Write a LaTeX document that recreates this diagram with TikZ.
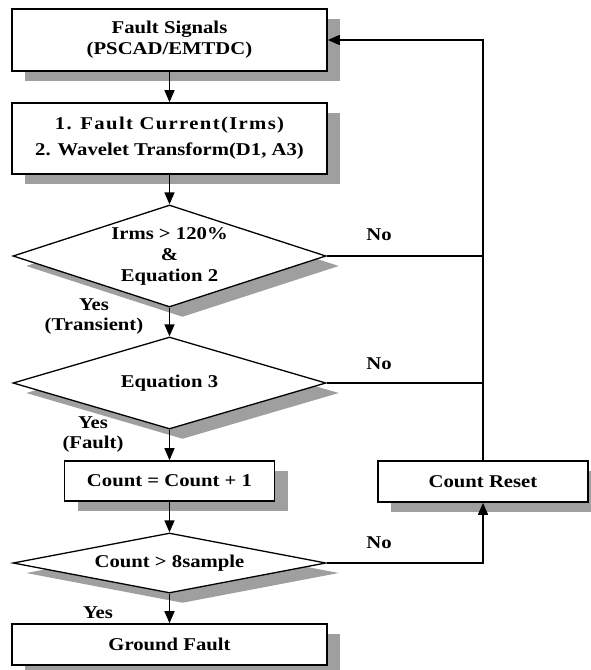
\documentclass[tikz,border=0pt]{standalone}
\usepackage{fontspec}
\setmainfont[FakeStretch=1.15]{Liberation Serif}
\usetikzlibrary{shapes.geometric, shadows, arrows.meta}

\tikzset{
	shade/.style = {drop shadow = {shadow xshift = 13pt, shadow yshift = -10pt, fill = gray!75, opacity = 1}},
	blk/.style = {draw, line width = 1.6pt, fill = white, shade},
	dia/.style = {draw, diamond, line width = 1.3pt, fill = white, inner sep = 0pt, shade},
	lbl/.style = {font = \fontsize{18}{20}\selectfont\bfseries},
	arr/.style = {line width = 1.4pt, -{Triangle[length = 12pt, width = 10pt]}},
	ln/.style = {line width = 1.4pt}
}

\begin{document}
\begin{tikzpicture}[x = 1pt, y = -1pt, every node/.style = {font = \fontsize{18}{21}\selectfont\bfseries, align = center}]
			\useasboundingbox (0, 0) rectangle (590, 670);
			% main column
			\node[blk, minimum width = 315pt, minimum height = 62pt] (sig) at (169.5, 40) {Fault Signals\\(PSCAD/EMTDC)};
			\node[blk, minimum width = 315pt, minimum height = 71pt] (feat) at (169.5, 138.5) {\addfontfeature{LetterSpace = 7.5}1. Fault Current(Irms)\\[5pt]2. Wavelet Transform(D1, A3)};
			\node[dia, minimum width = 313pt, minimum height = 102pt, aspect = 3] (irms) at (169.5, 256) {Irms > 120\%\\\&\\Equation 2};
			\node[dia, minimum width = 313pt, minimum height = 92pt, aspect = 3.4] (eqthree) at (169.5, 383) {Equation 3};
			\node[blk, minimum width = 210pt, minimum height = 40pt] (cnt) at (169.5, 481) {Count = Count + 1};
			\node[dia, minimum width = 313pt, minimum height = 60pt, aspect = 5.2] (chk) at (169.5, 563) {Count > 8sample};
			\node[blk, minimum width = 315pt, minimum height = 41pt] (gnd) at (169.5, 644.5) {Ground Fault};
			\node[blk, minimum width = 210pt, minimum height = 41pt] (rst) at (483, 481.5) {Count Reset};
			% labels
			\node[lbl] (yesa) at (94, 317) {Yes\\(Transient)};
			\node[lbl] (yesb) at (93, 435) {Yes\\(Fault)};
			\node[lbl] (yesc) at (98, 613) {Yes};
			\node[lbl] (noa) at (379, 235) {No};
			\node[lbl] (nob) at (379, 364) {No};
			\node[lbl] (noc) at (379, 543) {No};
			% connectors
			\draw[arr] (sig.south) -- (feat.north);
			\draw[arr] (feat.south) -- (irms.north);
			\draw[arr] (irms.south) -- (eqthree.north);
			\draw[arr] (eqthree.south) -- (cnt.north);
			\draw[arr] (cnt.south) -- (chk.north);
			\draw[arr] (chk.south) -- (gnd.north);
			\draw[ln] (irms.east) -- (irms.east -| rst.north);
			\draw[ln] (eqthree.east) -- (eqthree.east -| rst.north);
			\draw[arr] (rst.north) |- (sig.east);
			\draw[arr] (chk.east) -| (rst.south);
\end{tikzpicture}
\end{document}
